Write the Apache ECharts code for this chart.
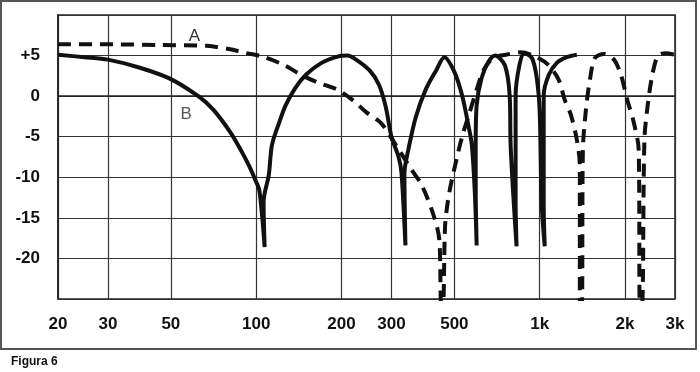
<!DOCTYPE html>
<html>
<head>
<meta charset="utf-8">
<script src="https://cdn.jsdelivr.net/npm/echarts@6/dist/echarts.min.js"></script>
<style>
html,body{margin:0;padding:0;background:#fff;}
#c{width:700px;height:372px;}
</style>
</head>
<body>
<div id="c"></div>
<script>
// Frequency axis ticks
const tickFreqs = [20, 30, 50, 100, 200, 300, 500, 1000, 2000, 3000];
const tickLabels = ['20', '30', '50', '100', '200', '300', '500', '1k', '2k', '3k'];

// Curve B (solid)
const bFreq = [20, 24.8, 30, 38.9, 50, 63, 70.7, 81.2, 89.1, 94.7, 99.2, 102.6, 107.1, 106.2, 110.8, 113.7, 120.7, 127.1, 137.3, 149.5, 170, 195, 210, 223, 250.7, 271, 286.3, 300, 317.9, 325.5, 336.1, 333.3, 344.1, 365.4, 396.1, 431.7, 460.7, 500, 532.3, 562.5, 576.1, 589.9, 599.3, 594.6, 594.6, 599.3, 623.5, 658.8, 696.3, 753.6, 783.4, 789.5, 808.9, 828.6, 822.2, 822.2, 822.2, 847.8, 881.5, 938.9, 976.6, 1000, 1016.4, 1041.6, 1033, 1033, 1076, 1149, 1246, 1352];
const bLevel = [5.1, 4.8, 4.5, 3.5, 2.1, -0.1, -1.7, -4.5, -6.9, -8.7, -10.3, -11.6, -18.6, -13.0, -9.7, -6.0, -3.2, -1.1, 1.0, 2.6, 4.1, 4.9, 5.0, 4.6, 3.2, 1.4, -1.3, -5.0, -7.5, -9.5, -18.4, -9.5, -6.6, -2.6, 0.8, 3.2, 4.8, 3.0, 0.1, -3.9, -6.0, -11.6, -18.4, -11.6, -6.0, -1.1, 2.2, 4.2, 5.0, 3.8, 0.1, -6.0, -12.8, -18.5, -12.8, -6.0, 0.1, 3.8, 5.3, 4.7, 2.2, -2.0, -13.4, -18.5, -13.4, 0.1, 2.6, 4.1, 4.8, 5.1];

// Curve A (dashed)
const aFreq = [20, 27.9, 45.8, 67, 80.1, 92.6, 107.1, 126, 144.5, 164.3, 193.2, 219.1, 244.9, 275.3, 297.6, 322.5, 353.8, 384.2, 424.3, 442.5, 449.2, 456.2, 463.9, 479.8, 508, 532.3, 562.5, 599.3, 633.6, 684.9, 759.6, 854.4, 976.6, 1076, 1167, 1226, 1288, 1352, 1385, 1385, 1408, 1420, 1455, 1503, 1566, 1685, 1828, 1935, 2037, 2135, 2234, 2255, 2297, 2340, 2404, 2495, 2613, 2787, 3000];
const aLevel = [6.4, 6.4, 6.3, 6.2, 5.8, 5.3, 4.8, 3.8, 2.6, 1.7, 0.8, -0.5, -2.0, -3.3, -5.0, -6.9, -9.1, -11.0, -14.9, -17.7, -25.5, -25.5, -15.9, -11.9, -7.9, -5.0, -2.3, 0.8, 3.2, 4.7, 5.1, 5.4, 4.8, 3.8, 2.0, -0.5, -2.3, -5.4, -8.5, -25.5, -25.5, -6.6, -1.7, 2.0, 4.7, 5.2, 4.5, 2.6, -0.5, -2.9, -6.6, -25.5, -25.5, -5.4, -1.1, 2.6, 5.0, 5.3, 5.1];

// Curve name labels (anchored in data units)
const curveNames = ['A', 'B'];
const nameFreq = [60.6, 56.6];
const nameLevel = [7.4, -2.2];
const nameColors = ['#333', '#555'];

const FONT = '"Liberation Sans", Arial, sans-serif';
const pair = (xs, ys) => xs.map((x, i) => [x, ys[i]]);

const chart = echarts.init(document.getElementById('c'), null, {renderer: 'canvas'});
chart.setOption({
  animation: false,
  backgroundColor: '#fff',
  graphic: [
    {type: 'rect', shape: {x: 1, y: 1, width: 695, height: 348}, style: {fill: 'none', stroke: '#555', lineWidth: 2}, z: 0},
    {type: 'text', left: 11, top: 356, style: {text: 'Figura 6', font: 'bold 12px ' + FONT, fill: '#111'}}
  ],
  grid: {left: 58, right: 25, top: 15, bottom: 73, show: true, borderColor: '#222', borderWidth: 1.5, backgroundColor: 'transparent'},
  xAxis: {
    type: 'log', logBase: 10, min: 20, max: 3000,
    axisLine: {show: true, lineStyle: {color: '#222', width: 1.5}},
    axisTick: {show: false, customValues: tickFreqs},
    splitLine: {show: true, lineStyle: {color: '#333', width: 1.2}},
    minorSplitLine: {show: false},
    axisLabel: {
      customValues: tickFreqs,
      margin: 17,
      color: '#111', fontWeight: 'bold', fontSize: 17, fontFamily: FONT,
      formatter: v => { const i = tickFreqs.findIndex(t => Math.abs(t - v) < 1e-6 * t); return i >= 0 ? tickLabels[i] : ''; }
    }
  },
  yAxis: {
    type: 'value', min: -25, max: 10, interval: 5,
    axisLine: {show: true, lineStyle: {color: '#222', width: 1.5}},
    axisTick: {show: false},
    splitLine: {show: true, lineStyle: {color: '#333', width: 1.2}},
    axisLabel: {
      margin: 18, color: '#111', fontWeight: 'bold', fontSize: 17, fontFamily: FONT,
      formatter: v => (v === 10 || v === -25) ? '' : (v > 0 ? '+' + v : String(v))
    }
  },
  series: [
    {
      name: 'B', type: 'line', data: pair(bFreq, bLevel), showSymbol: false, symbol: 'none', smooth: 0.3,
      lineStyle: {color: '#111', width: 4}, z: 3,
      markPoint: {
        symbol: 'circle', symbolSize: 0,
        label: {show: true, fontSize: 17, fontFamily: FONT, formatter: p => p.name},
        data: curveNames.map((n, i) => ({name: n, coord: [nameFreq[i], nameLevel[i]], label: {color: nameColors[i]}}))
      }
    },
    {
      name: 'A', type: 'line', data: pair(aFreq, aLevel), showSymbol: false, symbol: 'none', smooth: 0.3,
      lineStyle: {color: '#111', width: 4, type: [13, 8]}, z: 3
    }
  ]
});
</script>
</body>
</html>
